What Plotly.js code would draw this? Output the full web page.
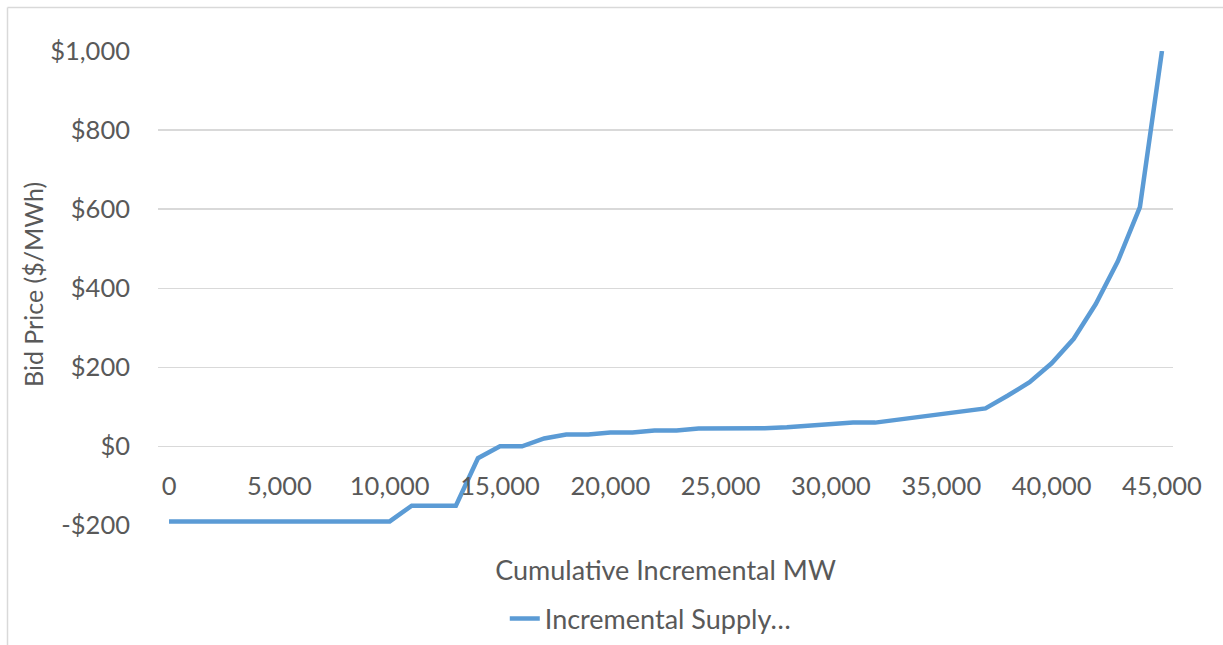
<!DOCTYPE html>
<html>
<head>
<meta charset="utf-8">
<script src="https://cdn.plot.ly/plotly-3.0.1.min.js"></script>
<style>
  html, body { margin: 0; padding: 0; background: #ffffff; }
  #chart { width: 1223px; height: 645px; }
</style>
</head>
<body>
<div id="chart"></div>
<script>
// Cumulative incremental MW (category steps of 1,000 MW)
const cumulativeMW = [
  0, 1000, 2000, 3000, 4000, 5000, 6000, 7000, 8000, 9000,
  10000, 11000, 12000, 13000, 14000, 15000, 16000, 17000, 18000, 19000,
  20000, 21000, 22000, 23000, 24000, 25000, 26000, 27000, 28000, 29000,
  30000, 31000, 32000, 33000, 34000, 35000, 36000, 37000, 38000, 39000,
  40000, 41000, 42000, 43000, 44000, 45000
];
// Bid price ($/MWh)
const bidPrice = [
  -190, -190, -190, -190, -190, -190, -190, -190, -190, -190,
  -190, -150, -150, -150, -30, 0, 0, 20, 30, 30,
  35, 35, 40, 40, 45, 45, 46, 46, 48, 52,
  56, 60, 60, 67, 73, 80, 88, 96, 128, 162,
  210, 272, 360, 468, 605, 1000
];
const xTickVals = [0, 5000, 10000, 15000, 20000, 25000, 30000, 35000, 40000, 45000];
const yTickVals = [-200, 0, 200, 400, 600, 800, 1000];
const yTickText = ['-$200', '$0', '$200', '$400', '$600', '$800', '$1,000'];
const seriesName = 'Incremental Supply…';
const xTitle = 'Cumulative Incremental MW';
const yTitle = 'Bid Price ($/MWh)';

const W = 1223, H = 645;
const M = { l: 158, r: 50, t: 51, b: 119, autoexpand: false };
const plotW = W - M.l - M.r, plotH = H - M.t - M.b;
const px2x = p => (p - M.l) / plotW;
const px2y = p => (H - M.b - p) / plotH;

const FONT = 'Lato, "Open Sans", "DejaVu Sans", sans-serif';
const TXT = '#595959';

const trace = {
  x: cumulativeMW,
  y: bidPrice,
  type: 'scatter',
  mode: 'lines',
  name: seriesName,
  line: { color: '#5B9BD5', width: 4.5, shape: 'linear' },
  hoverinfo: 'x+y'
};

const layout = {
  width: W, height: H,
  margin: M,
  paper_bgcolor: '#ffffff',
  plot_bgcolor: '#ffffff',
  font: { family: FONT, color: TXT, size: 26 },
  showlegend: true,
  xaxis: {
    range: [-500, 45500],
    anchor: 'free',
    position: px2y(468),
    tickvals: xTickVals,
    tickformat: ',d',
    showgrid: false,
    zeroline: false,
    showline: false,
    ticks: '',
    tickfont: { family: FONT, color: TXT, size: 25.5 },
    title: { text: xTitle, font: { family: FONT, color: TXT, size: 27 }, standoff: 62 },
    automargin: false,
    fixedrange: true
  },
  yaxis: {
    range: [-201.5, 1000],
    tickvals: yTickVals,
    ticktext: yTickText,
    showgrid: true,
    gridcolor: '#d9d9d9',
    gridwidth: 1.3,
    zeroline: false,
    showline: false,
    ticks: '',
    ticklabelstandoff: 27,
    tickfont: { family: FONT, color: TXT, size: 25.5 },
    automargin: false,
    fixedrange: true
  },
  annotations: [
    { text: yTitle, xref: 'paper', yref: 'paper',
      x: px2x(33), y: px2y(285), xanchor: 'center', yanchor: 'middle',
      textangle: -90, showarrow: false,
      font: { family: FONT, color: TXT, size: 25 } }
  ],
  legend: {
    orientation: 'h',
    x: 0.485, xanchor: 'center',
    y: px2y(619), yanchor: 'middle',
    font: { family: FONT, color: TXT, size: 27 },
    bgcolor: 'rgba(0,0,0,0)'
  },
  shapes: [
    { type: 'line', xref: 'paper', yref: 'paper',
      x0: px2x(7.5), x1: px2x(W + 5), y0: px2y(7.5), y1: px2y(7.5),
      line: { color: '#d9d9d9', width: 1.5 } },
    { type: 'line', xref: 'paper', yref: 'paper',
      x0: px2x(7.5), x1: px2x(7.5), y0: px2y(7.5), y1: px2y(H + 5),
      line: { color: '#d9d9d9', width: 1.5 } }
  ]
};

Plotly.newPlot('chart', [trace], layout, { displayModeBar: false, staticPlot: true });
</script>
</body>
</html>
